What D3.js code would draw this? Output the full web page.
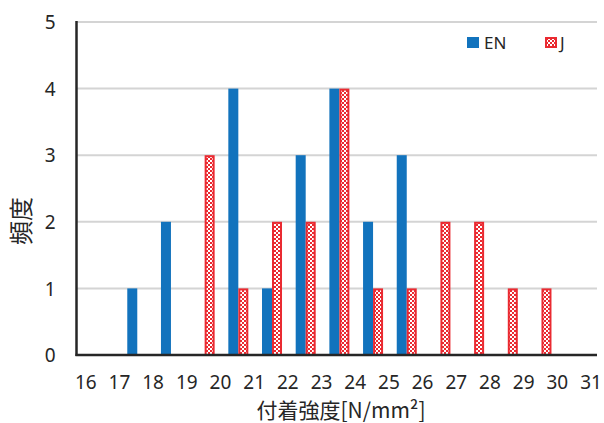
<!DOCTYPE html>
<html><head><meta charset="utf-8">
<script src="https://cdn.jsdelivr.net/npm/d3@7"></script>
<style>body{margin:0;background:#fff}svg{display:block}</style>
</head><body>
<svg id="c" width="604" height="423"></svg>
<script>
const bins = ["16-17","17-18","18-19","19-20","20-21","21-22","22-23","23-24","24-25","25-26","26-27","27-28","28-29","29-30","30-31"];
const enValues = [0,1,2,0,4,1,3,4,2,3,0,0,0,0,0];
const jValues  = [0,0,0,3,1,2,2,4,1,1,2,2,1,1,0];
const xTicks = [16,17,18,19,20,21,22,23,24,25,26,27,28,29,30,31];
const yTicks = [0,1,2,3,4,5];
const seriesNames = ["EN","J"];

const svg = d3.select("#c");
const font = "'Noto Sans','Noto Sans CJK JP',sans-serif";
const blue = "#1273bd", red = "#ea2a31", axisCol = "#262626", gridCol = "#d4d4d4";

const defs = svg.append("defs");
const pat = defs.append("pattern").attr("id","chk").attr("patternUnits","userSpaceOnUse")
  .attr("width",4).attr("height",4);
pat.append("rect").attr("width",4).attr("height",4).attr("fill","#fff");
pat.append("rect").attr("x",0).attr("y",0).attr("width",2).attr("height",2).attr("fill",red);
pat.append("rect").attr("x",2).attr("y",2).attr("width",2).attr("height",2).attr("fill",red);

const plotL = 76.5, plotR = 597, x0 = 86.75, x1 = 592;
const y = d3.scaleLinear().domain([0,5]).range([355,22]);
const xb = d3.scaleBand().domain(bins).range([x0,x1]).padding(0);
const xl = d3.scaleLinear().domain([16,31]).range([x0,x1]);
const bw = 10;
const xs = d3.scaleBand().domain(seriesNames).range([xb.bandwidth()/2-bw, xb.bandwidth()/2+bw]);

// gridlines
svg.append("g").selectAll("line").data(yTicks.filter(d=>d>0)).join("line")
  .attr("x1",plotL).attr("x2",plotR).attr("y1",d=>y(d)).attr("y2",d=>y(d))
  .attr("stroke",gridCol).attr("stroke-width",2);

// bars EN
svg.append("g").selectAll("rect").data(bins.map((b,i)=>({b,v:enValues[i]})).filter(d=>d.v>0)).join("rect")
  .attr("x",d=>xb(d.b)+xs("EN")).attr("width",xs.bandwidth())
  .attr("y",d=>y(d.v)).attr("height",d=>y(0)-y(d.v)).attr("fill",blue);
// bars J
svg.append("g").selectAll("rect").data(bins.map((b,i)=>({b,v:jValues[i]})).filter(d=>d.v>0)).join("rect")
  .attr("x",d=>xb(d.b)+xs("J")+1).attr("width",xs.bandwidth()-2)
  .attr("y",d=>y(d.v)+1).attr("height",d=>y(0)-y(d.v)-1)
  .attr("fill","url(#chk)").attr("stroke",red).attr("stroke-width",2);

// axes lines
svg.append("line").attr("x1",plotL).attr("x2",plotL).attr("y1",y(5)-1).attr("y2",y(0)+1)
  .attr("stroke",axisCol).attr("stroke-width",2.5);
svg.append("line").attr("x1",plotL-1).attr("x2",plotR).attr("y1",y(0)).attr("y2",y(0))
  .attr("stroke",axisCol).attr("stroke-width",2.5);

// y tick labels
const ya = svg.append("g").attr("transform",`translate(${plotL-21},0)`)
  .call(d3.axisLeft(y).tickValues(yTicks).tickSize(0).tickPadding(0).tickFormat(d3.format("d")));
ya.select(".domain").remove();
ya.selectAll("text").attr("font-family",font).attr("font-size",19).attr("fill","#262626").attr("dy","0.35em");

// x tick labels
const xa = svg.append("g").attr("transform",`translate(-1.5,${y(0)})`)
  .call(d3.axisBottom(xl).tickValues(xTicks).tickSize(0).tickPadding(21).tickFormat(d3.format("d")));
xa.select(".domain").remove();
xa.selectAll("text").attr("font-family",font).attr("font-size",19).attr("fill","#262626");

// axis titles
svg.append("text").attr("x",341).attr("y",418).attr("text-anchor","middle")
  .attr("font-family","'Noto Sans CJK JP',sans-serif").attr("font-size",21).attr("fill","#262626")
  .text("付着強度[N/mm²]");
svg.append("text").attr("transform","translate(30,221) rotate(-90)").attr("text-anchor","middle")
  .attr("font-family","'Noto Sans CJK JP',sans-serif").attr("font-size",24).attr("fill","#262626")
  .text("頻度");

// legend
const lg = svg.append("g");
lg.append("rect").attr("x",467).attr("y",37).attr("width",12).attr("height",11).attr("fill",blue);
lg.append("text").attr("x",484).attr("y",48.5).attr("font-family",font).attr("font-size",17).attr("fill","#262626").text(seriesNames[0]);
lg.append("rect").attr("x",546).attr("y",38).attr("width",10).attr("height",9)
  .attr("fill","url(#chk)").attr("stroke",red).attr("stroke-width",2);
lg.append("text").attr("x",560).attr("y",48.5).attr("font-family",font).attr("font-size",17).attr("fill","#262626").text(seriesNames[1]);
</script>
</body></html>
